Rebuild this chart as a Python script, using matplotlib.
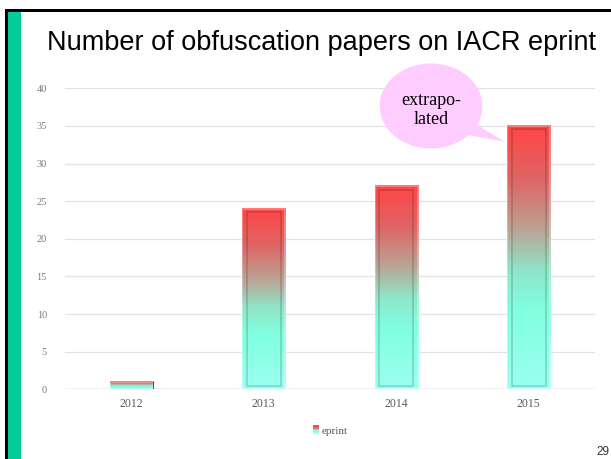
import numpy as np
import matplotlib.pyplot as plt
from matplotlib.patches import Rectangle, Ellipse, Polygon
from matplotlib.colors import LinearSegmentedColormap
from matplotlib.legend_handler import HandlerBase

years = ["2012", "2013", "2014", "2015"]
papers = [1, 24, 27, 35]
series_name = "eprint"
title = "Number of obfuscation papers on IACR eprint"
callout = "extrapo-\nlated"
page_no = "29"

W, H = 611, 459
fig = plt.figure(figsize=(W / 100, H / 100), dpi=100)
fig.patch.set_facecolor("white")


def fy(y):
    # pixel row (from top) -> figure fraction
    return 1 - y / H


# slide frame: black rule on top and left, green stripe
fig.add_artist(Rectangle((5 / W, 0), 3 / W, fy(10), transform=fig.transFigure,
                         color="black", lw=0))
fig.add_artist(Rectangle((5 / W, fy(12)), 1, 2.5 / H, transform=fig.transFigure,
                         color="black", lw=0))
fig.add_artist(Rectangle((8 / W, 0), 12.5 / W, fy(12), transform=fig.transFigure,
                         color="#00CC99", lw=0))

fig.text(47 / W, fy(43), title, family="Liberation Sans", fontsize=19.5,
         ha="left", va="center", color="black")
fig.text(609 / W, fy(446), page_no, family="Liberation Sans", fontsize=8.5,
         ha="right", va="top", color="#333333")

ax = fig.add_axes([65 / W, fy(389.3), 530 / W, 301 / H])
ax.set_xlim(-0.5, len(years) - 0.5)
ax.set_ylim(0, 40)
for s in ax.spines.values():
    s.set_visible(False)
ax.set_yticks(np.arange(0, 41, 5))
ax.yaxis.grid(True, color="#E3E3E3", lw=0.9)
ax.axhline(0, color="#D0D0D0", lw=1, zorder=1)
ax.set_axisbelow(True)
ax.tick_params(length=0)
ax.tick_params(axis="y", pad=13, labelsize=7.5, labelcolor="#7A7A7A")
ax.tick_params(axis="x", pad=6, labelsize=8.5, labelcolor="#5A5A5A")
ax.set_xticks(range(len(years)))
ax.set_xticklabels(years)
for lab in ax.get_xticklabels() + ax.get_yticklabels():
    lab.set_family("Liberation Serif")

cmap = LinearSegmentedColormap.from_list(
    "bar", [(0.0, "#9CFFF0"), (0.3, "#80FFE0"), (0.45, "#8FE6C8"),
            (0.6, "#B9A595"), (0.8, "#E06464"), (1.0, "#FF4646")])
grad = np.linspace(1, 0, 256).reshape(-1, 1)

bw = 0.325
bars = ax.bar(range(len(years)), papers, width=bw, color="none", lw=0)
for b in bars:
    x0, y0 = b.get_x(), b.get_y()
    w, h = b.get_width(), b.get_height()
    ax.imshow(grad, cmap=cmap, vmin=0, vmax=1, extent=[x0, x0 + w, y0, y0 + h],
              aspect="auto", interpolation="bilinear", zorder=2)
    # light rim and inner bevel
    ax.add_patch(Rectangle((x0, y0), w, h, fill=False, ec=(1, 1, 1, 0.35), lw=1.2, zorder=3))
    if h > 3:
        dx, dy = 0.035, 0.45
        ax.add_patch(Rectangle((x0 + dx, y0 + dy), w - 2 * dx, h - 2 * dy, fill=False,
                               ec=(0, 0, 0, 0.18), lw=1.1, zorder=3))
    else:
        ax.plot([x0 + w, x0 + w], [y0, y0 + h], color=(0, 0, 0, 0.6), lw=0.8, zorder=3)
ax.set_xlim(-0.5, len(years) - 0.5)
ax.set_ylim(0, 40)


class GradHandler(HandlerBase):
    def create_artists(self, legend, orig, xd, yd, width, height, fontsize, trans):
        cols = cmap(np.linspace(1, 0, 5))
        arts = []
        for i, c in enumerate(cols):
            arts.append(Rectangle((xd, yd + height - (i + 1) * height / 5), width, height / 5,
                                  color=c, lw=0, transform=trans))
        return arts


handle = Rectangle((0, 0), 1, 1)
leg = ax.legend([handle], [series_name], handler_map={Rectangle: GradHandler()},
                loc="center", bbox_to_anchor=(0.5, (389.3 - 431) / 301), frameon=False,
                handlelength=0.6, handleheight=0.8, handletextpad=0.2,
                prop={"family": "Liberation Serif", "size": 8})
for t in leg.get_texts():
    t.set_color("#555555")

# callout bubble pointing at the extrapolated 2015 bar
last = len(years) - 1
ex, ey = 2.262, 37.65
ax.add_patch(Ellipse((ex, ey), 0.775, 11.3, color="#FFCCFF", lw=0, zorder=4, clip_on=False))
tip = (last - bw / 2 - 0.02, papers[last] - 2.1)
ax.add_patch(Polygon([(2.54, 35.9), (2.42, 34.2), tip], closed=True, color="#FFCCFF",
                     lw=0, zorder=4, clip_on=False))
ax.text(ex, ey - 0.5, callout, ha="center", va="center", family="Liberation Serif",
        fontsize=13, linespacing=1.15, zorder=5)

fig.savefig("out.png", dpi=100)
